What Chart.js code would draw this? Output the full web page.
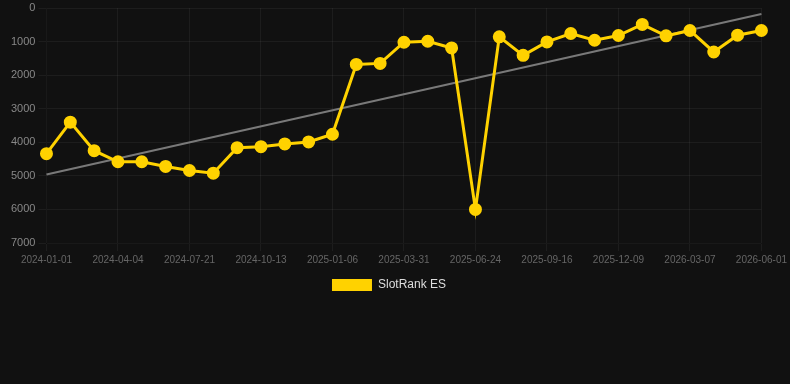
<!DOCTYPE html>
<html>
<head>
<meta charset="utf-8">
<script src="https://cdn.jsdelivr.net/npm/chart.js@4"></script>
<style>
  html, body { margin: 0; padding: 0; background: #111111; }
  #wrap { width: 790px; height: 301px; position: relative; }
</style>
</head>
<body>
<div id="wrap"><canvas id="rankChart"></canvas></div>
<script>
// datas de cada ponto (so uma a cada 3 aparece no eixo)
const labels = [
  '2024-01-01', '2024-02-01', '2024-03-04', '2024-04-04', '2024-05-10', '2024-06-15',
  '2024-07-21', '2024-08-18', '2024-09-15', '2024-10-13', '2024-11-10', '2024-12-08',
  '2025-01-06', '2025-02-03', '2025-03-03', '2025-03-31', '2025-04-28', '2025-05-27',
  '2025-06-24', '2025-07-22', '2025-08-19', '2025-09-16', '2025-10-14', '2025-11-11',
  '2025-12-09', '2026-01-06', '2026-02-05', '2026-03-07', '2026-04-05', '2026-05-03',
  '2026-06-01'
];

const rankES = [
  4340, 3400, 4250, 4580, 4580, 4720, 4840, 4920, 4160, 4130,
  4050, 3990, 3760, 1680, 1650, 1020, 990, 1190, 6000, 860,
  1410, 1010, 760, 960, 820, 490, 830, 670, 1310, 810, 670
];

// linha de tendencia: so os dois extremos
const trendStart = 4960;
const trendEnd = 180;

const yTicks = [0, 1000, 2000, 3000, 4000, 5000, 6000, 7000];

const gridCor = 'rgba(255,255,255,0.05)';

// empurra a legenda um pouco pra esquerda
const legendaShift = {
  id: 'legendaShift',
  afterLayout(chart) {
    if (chart.legend) { chart.legend.left -= 8; chart.legend.right -= 8; }
  }
};

new Chart(document.getElementById('rankChart'), {
  type: 'line',
  data: {
    labels: labels,
    datasets: [{
      label: 'SlotRank ES',
      data: rankES,
      borderColor: '#ffd200',
      backgroundColor: '#ffd200',
      borderWidth: 3,
      pointRadius: 5,
      pointHoverRadius: 5,
      tension: 0
    }, {
      label: 'trend',
      data: [
        { x: labels[0], y: trendStart },
        { x: labels[labels.length - 1], y: trendEnd }
      ],
      borderColor: 'rgba(140, 140, 140, 0.85)',
      borderWidth: 2,
      pointRadius: 0,
      tension: 0
    }]
  },
  plugins: [legendaShift],
  options: {
    responsive: true,
    maintainAspectRatio: false,
    animation: false,
    layout: { padding: { left: 8, right: 4, top: 0, bottom: 0 } },
    plugins: {
      legend: {
        position: 'bottom',
        labels: {
          color: '#dddddd',
          boxWidth: 40,
          boxHeight: 12,
          font: { size: 12, family: 'Liberation Sans, Arial, sans-serif' },
          filter: item => item.text !== 'trend',
          generateLabels: chart => {
            const items = Chart.defaults.plugins.legend.labels.generateLabels(chart);
            items.forEach(it => { it.lineWidth = 0; });
            return items;
          }
        }
      },
      tooltip: { enabled: false }
    },
    scales: {
      x: {
        type: 'category',
        grid: {
          color: ctx => (ctx.index % 3 === 0 ? gridCor : 'rgba(0,0,0,0)')
        },
        ticks: {
          color: '#666666',
          autoSkip: false,
          maxRotation: 0,
          font: { size: 10, family: 'Liberation Sans, Arial, sans-serif' },
          callback: function (val, i) { return i % 3 === 0 ? labels[i] : ''; }
        }
      },
      y: {
        reverse: true,
        min: 0,
        max: 7000,
        grid: { color: gridCor },
        afterBuildTicks: axis => { axis.ticks = yTicks.map(v => ({ value: v })); },
        ticks: {
          color: '#888888',
          font: { size: 11, lineHeight: 0.3, family: 'Liberation Sans, Arial, sans-serif' },
          callback: v => String(v)
        }
      }
    }
  }
});
</script>
</body>
</html>
